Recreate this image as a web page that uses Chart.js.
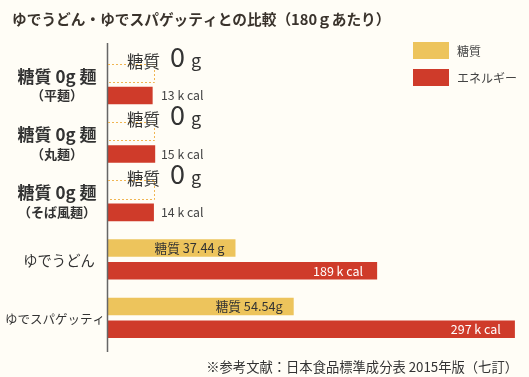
<!DOCTYPE html>
<html>
<head>
<meta charset="utf-8">
<script src="https://cdn.jsdelivr.net/npm/chart.js@4.4.1/dist/chart.umd.min.js"></script>
<style>
  html, body { margin: 0; padding: 0; background: #fffdf6; }
</style>
</head>
<body>
<canvas id="chart" width="529" height="377"></canvas>
<script>
// données
var categories = ['糖質 0g 麺', '糖質 0g 麺', '糖質 0g 麺', 'ゆでうどん', 'ゆでスパゲッティ'];
var subLabels = ['（平麺）', '（丸麺）', '（そば風麺）', '', ''];
var sugar = [0, 0, 0, 37.44, 54.54];
var energy = [13, 15, 14, 189, 297];
var sugarText = ['0', '0', '0', '糖質 37.44 g', '糖質 54.54g'];
var energyText = ['13 k cal', '15 k cal', '14 k cal', '189 k cal', '297 k cal'];
var seriesNames = ['糖質', 'エネルギー'];
var chartTitle = 'ゆでうどん・ゆでスパゲッティとの比較（180ｇあたり）';
var footnote = '※参考文献：日本食品標準成分表 2015年版（七訂）';

var YELLOW = 'rgb(237,196,92)';
var RED = 'rgb(207,59,42)';
var FONT = '"Noto Sans CJK JP", "Noto Sans", sans-serif';

var decor = {
  id: 'decor',
  beforeDraw: function(chart) {
    var ctx = chart.ctx;
    ctx.save();
    ctx.fillStyle = '#fffdf6';
    ctx.fillRect(0, 0, chart.width, chart.height);
    ctx.restore();
  },
  afterDraw: function(chart) {
    var ctx = chart.ctx;
    var area = chart.chartArea;
    var y = chart.scales.y;
    var sMeta = chart.getDatasetMeta(0);
    var eMeta = chart.getDatasetMeta(1);
    ctx.save();

    // titre
    ctx.fillStyle = '#3a332c';
    ctx.font = 'bold 14.7px ' + FONT;
    ctx.textBaseline = 'middle';
    ctx.textAlign = 'left';
    ctx.fillText(chartTitle, 12, 19);

    // légende
    ctx.fillStyle = YELLOW;
    ctx.fillRect(413, 42, 36, 17);
    ctx.fillStyle = RED;
    ctx.fillRect(413, 69, 36, 17);
    ctx.fillStyle = '#444';
    ctx.font = '12px ' + FONT;
    ctx.fillText(seriesNames[0], 457, 51);
    ctx.fillText(seriesNames[1], 457, 78);

    // axe vertical
    ctx.strokeStyle = '#666';
    ctx.lineWidth = 1.5;
    ctx.beginPath();
    ctx.moveTo(area.left - 0.5, 43);
    ctx.lineTo(area.left - 0.5, 352);
    ctx.stroke();

    // libellés de gauche
    for (var i = 0; i < categories.length; i++) {
      var cy = y.getPixelForValue(i);
      ctx.textAlign = 'center';
      ctx.fillStyle = '#333';
      if (subLabels[i]) {
        ctx.font = 'bold 17px ' + FONT;
        ctx.fillText(categories[i], 57, cy - 8);
        ctx.font = 'bold 13px ' + FONT;
        ctx.fillText(subLabels[i], 57, cy + 11);
      } else {
        ctx.font = (i == 3 ? '14.3px ' : '12.5px ') + FONT;
        ctx.fillText(categories[i], i == 3 ? 59 : 55, cy + 1);
      }
    }

    // annotations des barres
    for (var i = 0; i < sugar.length; i++) {
      var s = sMeta.data[i];
      var e = eMeta.data[i];
      if (sugar[i] == 0) {
        // cadre pointillé pour le 0 g
        var top = s.y - s.height / 2 - 0.5;
        var bot = s.y + s.height / 2 + 0.5;
        var right = area.left + 46;
        ctx.strokeStyle = '#f0b552';
        ctx.lineWidth = 1;
        ctx.setLineDash([2, 2]);
        ctx.beginPath();
        ctx.moveTo(area.left, Math.round(top) + 0.5);
        ctx.lineTo(right + 0.5, Math.round(top) + 0.5);
        ctx.lineTo(right + 0.5, Math.round(bot) + 0.5);
        ctx.lineTo(area.left, Math.round(bot) + 0.5);
        ctx.stroke();
        ctx.setLineDash([]);

        ctx.textAlign = 'left';
        ctx.textBaseline = 'alphabetic';
        ctx.fillStyle = '#333';
        ctx.font = '16.5px ' + FONT;
        ctx.fillText(seriesNames[0], 127, s.y - 5);
        ctx.font = '27px ' + FONT;
        ctx.fillText(sugarText[i], 170, s.y - 6);
        ctx.font = '18px ' + FONT;
        ctx.fillText('g', 191, s.y - 6);

        ctx.textBaseline = 'middle';
        ctx.fillStyle = '#444';
        ctx.font = '12.3px ' + FONT;
        ctx.fillText(energyText[i], area.left + 53, e.y);
      } else {
        ctx.textAlign = 'right';
        ctx.textBaseline = 'middle';
        ctx.fillStyle = '#333';
        ctx.font = '12.7px ' + FONT;
        ctx.fillText(sugarText[i], s.x - 11, s.y);
        ctx.fillStyle = '#fff';
        ctx.font = '12.5px ' + FONT;
        ctx.fillText(energyText[i], e.x - 14, e.y);
      }
    }

    // source
    ctx.textAlign = 'right';
    ctx.textBaseline = 'middle';
    ctx.fillStyle = '#333';
    ctx.font = '13.3px ' + FONT;
    ctx.fillText(footnote, 518, 367);
    ctx.restore();
  }
};

var ctx = document.getElementById('chart').getContext('2d');
var chart = new Chart(ctx, {
  type: 'bar',
  data: {
    labels: categories,
    datasets: [
      {
        label: seriesNames[0],
        data: sugar,
        backgroundColor: YELLOW,
        borderWidth: 0,
        xAxisID: 'x',
        categoryPercentage: 0.78,
        barPercentage: 0.77
      },
      {
        label: seriesNames[1],
        data: energy,
        backgroundColor: RED,
        borderWidth: 0,
        xAxisID: 'x2',
        base: -22, // les barres partent du bord gauche
        categoryPercentage: 0.78,
        barPercentage: 0.77
      }
    ]
  },
  options: {
    indexAxis: 'y',
    responsive: false,
    animation: false,
    layout: { padding: { left: 108, right: 9, top: 55, bottom: 30 } },
    plugins: {
      legend: { display: false },
      title: { display: false },
      tooltip: { enabled: false }
    },
    scales: {
      y: { display: false },
      x: { display: false, min: 0, max: 121 },
      x2: { display: false, min: -22, max: 301 }
    }
  },
  plugins: [decor]
});
</script>
</body>
</html>
